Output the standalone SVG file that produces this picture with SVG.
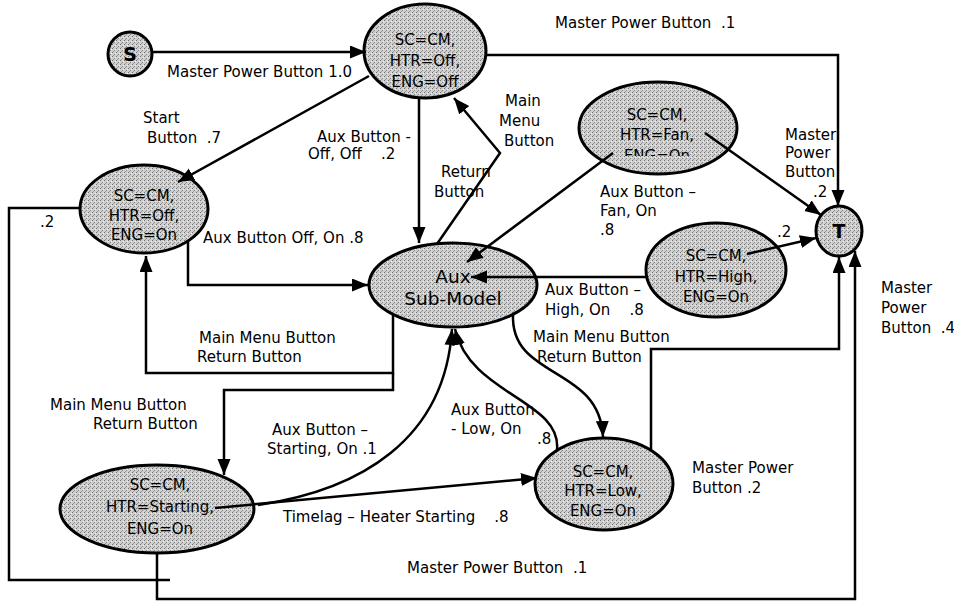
<svg xmlns="http://www.w3.org/2000/svg" width="954" height="601" viewBox="0 0 954 601">
  <defs>
    <!-- halftone-like grey fill for states -->
    <pattern id="stip" width="4" height="4" patternUnits="userSpaceOnUse">
      <rect width="4" height="4" fill="#d0d0d0"/>
      <rect x="0" y="0" width="1" height="1" fill="#6f6f6f"/>
      <rect x="2" y="2" width="1" height="1" fill="#848484"/>
      <rect x="3" y="1" width="1" height="1" fill="#f0f0f0"/>
      <rect x="1" y="3" width="1" height="1" fill="#9a9a9a"/>
    </pattern>
    <marker id="arr" markerUnits="userSpaceOnUse" markerWidth="17" markerHeight="14" refX="16" refY="6.5" orient="auto">
      <path d="M0,0 L16,6.5 L0,13 z" fill="#000"/>
    </marker>
    <clipPath id="fanClip">
      <rect x="560" y="60" width="200" height="96"/>
    </clipPath>
  </defs>
  <style>
    .st { fill: url(#stip); stroke: #000; stroke-width: 3; }
    .tx { font-family: "DejaVu Sans", "Liberation Sans", sans-serif; font-size: 15px; fill: #000; }
    .nt { font-family: "DejaVu Sans", "Liberation Sans", sans-serif; font-size: 15px; fill: #000; text-anchor: middle; }
    .big { font-family: "DejaVu Sans", "Liberation Sans", sans-serif; font-size: 18.5px; fill: #000; text-anchor: middle; }
    .term { font-family: "DejaVu Sans", "Liberation Sans", sans-serif; font-size: 19px; font-weight: bold; fill: #000; text-anchor: middle; }
    .ln { fill: none; stroke: #000; stroke-width: 2.5; }
    .arw { marker-end: url(#arr); }
  </style>

  <rect width="954" height="601" fill="#fff"/>

  <!-- states -->
  <g id="start">
    <circle class="st" cx="130" cy="54" r="22"/>
    <text class="term" x="130" y="61">S</text>
  </g>
  <g id="terminal">
    <ellipse class="st" cx="839" cy="231" rx="23" ry="25"/>
    <text class="term" x="839" y="238">T</text>
  </g>
  <g id="off-off">
    <ellipse class="st" cx="425" cy="51" rx="61" ry="47"/>
    <text class="nt" x="425" y="45">SC=CM,</text>
    <text class="nt" x="425" y="66">HTR=Off,</text>
    <text class="nt" x="425" y="87">ENG=Off</text>
  </g>
  <g id="off-on">
    <ellipse class="st" cx="144" cy="209" rx="64" ry="44"/>
    <text class="nt" x="144" y="201">SC=CM,</text>
    <text class="nt" x="144" y="221">HTR=Off,</text>
    <text class="nt" x="144" y="240">ENG=On</text>
  </g>
  <g id="fan-on">
    <ellipse class="st" cx="658" cy="128" rx="79" ry="46"/>
    <text class="nt" x="657" y="120">SC=CM,</text>
    <text class="nt" x="657" y="140">HTR=Fan,</text>
    <text class="nt" x="657" y="161" clip-path="url(#fanClip)">ENG=On</text>
  </g>
  <g id="high-on">
    <ellipse class="st" cx="716" cy="270" rx="70" ry="47"/>
    <text class="nt" x="716" y="261">SC=CM,</text>
    <text class="nt" x="716" y="282">HTR=High,</text>
    <text class="nt" x="716" y="302">ENG=On</text>
  </g>
  <g id="aux">
    <ellipse class="st" cx="453" cy="285" rx="84" ry="42"/>
    <text class="big" x="453" y="283">Aux</text>
    <text class="big" x="453" y="305">Sub-Model</text>
  </g>
  <g id="starting-on">
    <ellipse class="st" cx="157" cy="509" rx="97" ry="44"/>
    <text class="nt" x="160" y="490">SC=CM,</text>
    <text class="nt" x="160" y="512">HTR=Starting,</text>
    <text class="nt" x="160" y="534">ENG=On</text>
  </g>
  <g id="low-on">
    <ellipse class="st" cx="604" cy="484" rx="69" ry="46"/>
    <text class="nt" x="603" y="477">SC=CM,</text>
    <text class="nt" x="603" y="496">HTR=Low,</text>
    <text class="nt" x="603" y="516">ENG=On</text>
  </g>

  <!-- transitions, drawn over the states -->
  <g id="connectors">
    <path class="ln arw" d="M152,52 L366,52"/>
    <path class="ln arw" d="M485,55 L838,55 L838,206"/>
    <path class="ln arw" d="M369,76 L178,182"/>
    <path class="ln arw" d="M419,98 L419,243"/>
    <path class="ln arw" d="M437,244 L500,153 L454,98"/>
    <path class="ln arw" d="M613,153 L467,262"/>
    <path class="ln arw" d="M705,133 L821,215"/>
    <path class="ln arw" d="M647,277 L471,277"/>
    <path class="ln arw" d="M747,254 L816,238"/>
    <path class="ln arw" d="M188,241 L188,285 L368,285"/>
    <path class="ln arw" d="M393,314 L393,373 L146,373 L146,256"/>
    <path class="ln arw" d="M393,373 L393,390 L224,390 L224,475"/>
    <path class="ln arw" d="M258,505 C360,490 445,440 452,329"/>
    <path class="ln arw" d="M557,450 C562,400 470,395 455,329"/>
    <path class="ln arw" d="M513,314 C510,380 600,365 603,437"/>
    <path class="ln arw" d="M651,450 L651,349 L839,349 L839,257"/>
    <path class="ln arw" d="M157,553 L157,599 L855,599 L855,251"/>
    <path class="ln" d="M80,208 L9,208 L9,580 L170,580"/>
    <path class="ln arw" d="M215,508 L537,478"/>
  </g>

  <!-- transition labels -->
  <g id="labels">
    <text class="tx" x="167" y="77">Master Power Button 1.0</text>
    <text class="tx" x="555" y="28" xml:space="preserve">Master Power Button  .1</text>
    <text class="tx" x="143" y="123">Start</text>
    <text class="tx" x="147" y="143" xml:space="preserve">Button  .7</text>
    <text class="tx" x="317" y="142">Aux Button -</text>
    <text class="tx" x="308" y="159" xml:space="preserve">Off, Off    .2</text>
    <text class="tx" x="505" y="106">Main</text>
    <text class="tx" x="499" y="126">Menu</text>
    <text class="tx" x="504" y="146">Button</text>
    <text class="tx" x="441" y="177">Return</text>
    <text class="tx" x="434" y="197">Button</text>
    <text class="tx" x="600" y="197">Aux Button –</text>
    <text class="tx" x="600" y="216">Fan, On</text>
    <text class="tx" x="600" y="235">.8</text>
    <text class="tx" x="785" y="140">Master</text>
    <text class="tx" x="785" y="158">Power</text>
    <text class="tx" x="785" y="177">Button</text>
    <text class="tx" x="813" y="197">.2</text>
    <text class="tx" x="777" y="237">.2</text>
    <text class="tx" x="40" y="227">.2</text>
    <text class="tx" x="203" y="243">Aux Button Off, On .8</text>
    <text class="tx" x="545" y="295">Aux Button –</text>
    <text class="tx" x="545" y="315" xml:space="preserve">High, On    .8</text>
    <text class="tx" x="881" y="293">Master</text>
    <text class="tx" x="881" y="313">Power</text>
    <text class="tx" x="881" y="333" xml:space="preserve">Button  .4</text>
    <text class="tx" x="199" y="343">Main Menu Button</text>
    <text class="tx" x="197" y="362">Return Button</text>
    <text class="tx" x="533" y="342">Main Menu Button</text>
    <text class="tx" x="537" y="362">Return Button</text>
    <text class="tx" x="50" y="410">Main Menu Button</text>
    <text class="tx" x="93" y="429">Return Button</text>
    <text class="tx" x="272" y="435">Aux Button –</text>
    <text class="tx" x="267" y="454">Starting, On .1</text>
    <text class="tx" x="451" y="415">Aux Button</text>
    <text class="tx" x="451" y="434">- Low, On</text>
    <text class="tx" x="537" y="444">.8</text>
    <text class="tx" x="692" y="473">Master Power</text>
    <text class="tx" x="692" y="493">Button .2</text>
    <text class="tx" x="283" y="522" xml:space="preserve">Timelag – Heater Starting    .8</text>
    <text class="tx" x="407" y="573" xml:space="preserve">Master Power Button  .1</text>
  </g>
</svg>
